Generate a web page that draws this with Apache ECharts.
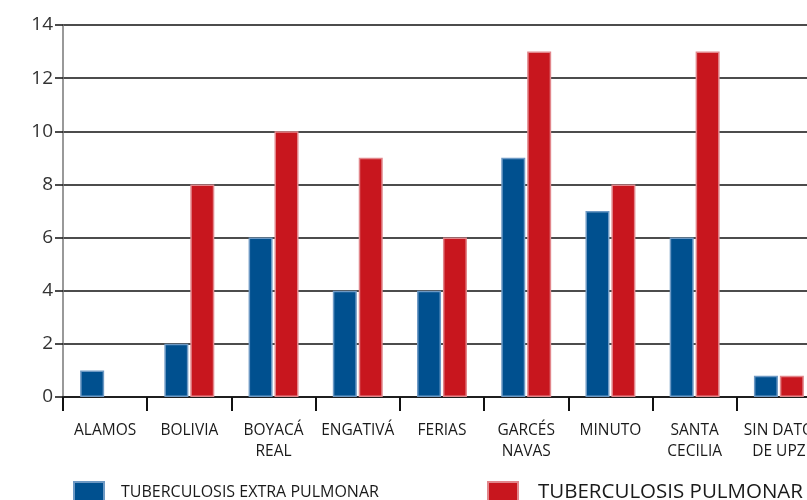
<!DOCTYPE html>
<html>
<head>
<meta charset="utf-8">
<script src="https://cdn.jsdelivr.net/npm/echarts@6/dist/echarts.min.js"></script>
<style>
  html, body { margin: 0; padding: 0; background: #fff; overflow: hidden; }
  #chart { width: 830px; height: 500px; }
</style>
</head>
<body>
<div id="chart"></div>
<script>
// UPZ names (x axis categories)
const categories = [
  'ALAMOS', 'BOLIVIA', 'BOYACÁ\nREAL', 'ENGATIVÁ', 'FERIAS',
  'GARCÉS\nNAVAS', 'MINUTO', 'SANTA\nCECILIA', 'SIN DATO\nDE UPZ'
];
// Cases per UPZ
const extraPulmonar = [1, 2, 6, 4, 4, 9, 7, 6, 0.8];
const pulmonar = [null, 8, 10, 9, 6, 13, 8, 13, 0.8];
// Y axis scale
const yMin = 0, yMax = 14, yStep = 2;

const FONT = '"Open Sans", "Noto Sans", sans-serif';

const chart = echarts.init(document.getElementById('chart'), null, { renderer: 'canvas' });

chart.setOption({
  animation: false,
  backgroundColor: '#ffffff',
  grid: { left: 63, top: 25, width: 758, height: 372, containLabel: false },
  legend: [
    {
      data: ['TUBERCULOSIS EXTRA PULMONAR'],
      left: 73, top: 481, padding: 0,
      itemWidth: 30, itemHeight: 20,
      icon: 'rect',
      textStyle: { fontFamily: FONT, fontSize: 16, color: '#1a1a1a', padding: [0, 0, 0, 12] }
    },
    {
      data: ['TUBERCULOSIS PULMONAR'],
      left: 487, top: 481, padding: 0,
      itemWidth: 30, itemHeight: 20,
      icon: 'rect',
      textStyle: { fontFamily: FONT, fontSize: 20.5, color: '#1a1a1a', padding: [0, 0, 0, 15] }
    }
  ],
  xAxis: {
    type: 'category',
    data: categories,
    boundaryGap: true,
    axisLine: { show: true, lineStyle: { color: '#111', width: 1.5 } },
    axisTick: { show: true, alignWithLabel: false, length: 14, lineStyle: { color: '#111', width: 2 } },
    axisLabel: {
      interval: 0,
      margin: 23,
      fontFamily: FONT,
      fontSize: 15.5,
      lineHeight: 21,
      color: '#1a1a1a'
    }
  },
  yAxis: {
    type: 'value',
    min: yMin, max: yMax, interval: yStep,
    axisLine: { show: true, lineStyle: { color: '#777', width: 1.5 } },
    axisTick: { show: true, length: 8, lineStyle: { color: '#111', width: 1.5 } },
    axisLabel: { margin: 10, fontFamily: FONT, fontSize: 19, color: '#333' },
    splitLine: { show: true, lineStyle: { color: '#111', width: 1.5 } }
  },
  series: [
    {
      name: 'TUBERCULOSIS EXTRA PULMONAR',
      type: 'bar',
      data: extraPulmonar,
      barWidth: 24,
      barGap: '8%',
      itemStyle: { color: '#00508f', borderColor: '#6d99c4', borderWidth: 1.5 }
    },
    {
      name: 'TUBERCULOSIS PULMONAR',
      type: 'bar',
      data: pulmonar,
      barWidth: 24,
      barGap: '8%',
      itemStyle: { color: '#c8161e', borderColor: '#e2868b', borderWidth: 1.5 }
    }
  ]
});
</script>
</body>
</html>
